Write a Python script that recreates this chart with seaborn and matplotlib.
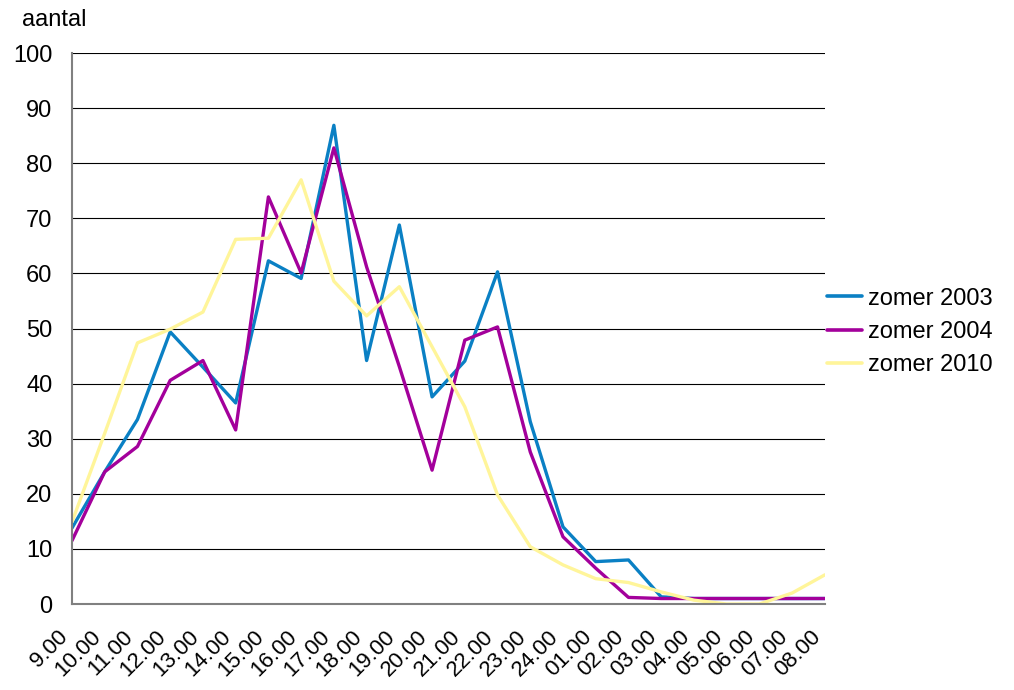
import pandas as pd
import matplotlib as mpl
import matplotlib.pyplot as plt
import seaborn as sns

# --- data ---
hours = ['9.00', '10.00', '11.00', '12.00', '13.00', '14.00', '15.00', '16.00',
         '17.00', '18.00', '19.00', '20.00', '21.00', '22.00', '23.00', '24.00',
         '01.00', '02.00', '03.00', '04.00', '05.00', '06.00', '07.00', '08.00']
zomer_2003 = [13.8, 24.0, 33.5, 49.4, 43.0, 36.5, 62.3, 59.1, 86.9, 44.2, 68.8, 37.6,
              44.1, 60.3, 33.1, 14.0, 7.7, 8.0, 1.3, 1.0, 1.0, 1.0, 1.0, 1.0]
zomer_2004 = [11.5, 24.0, 28.6, 40.6, 44.2, 31.6, 73.9, 60.1, 82.8, 61.2, 43.1, 24.3,
              47.9, 50.3, 27.6, 12.2, 6.5, 1.2, 1.0, 1.0, 1.0, 1.0, 1.0, 1.0]
zomer_2010 = [14.9, 31.0, 47.4, 49.9, 53.0, 66.2, 66.4, 77.0, 58.6, 52.3, 57.6, 46.7,
              35.8, 19.8, 10.4, 7.1, 4.6, 3.9, 2.2, 0.7, 0.0, 0.0, 2.0, 5.3]
series = {'zomer 2003': zomer_2003, 'zomer 2004': zomer_2004, 'zomer 2010': zomer_2010}
colors = {'zomer 2003': '#0A80C4', 'zomer 2004': '#A3009B', 'zomer 2010': '#FFF59A'}

rows = []
for name, vals in series.items():
    for i, (h, v) in enumerate(zip(hours, vals)):
        rows.append({'pos': i, 'uur': h, 'aantal': v, 'serie': name})
df = pd.DataFrame(rows)

sns.set_style('white')
mpl.rcParams['font.family'] = ['Liberation Sans', 'DejaVu Sans']
mpl.rcParams['font.size'] = 17
mpl.rcParams['text.color'] = 'black'
mpl.rcParams['xtick.color'] = 'black'
mpl.rcParams['ytick.color'] = 'black'

fig = plt.figure(figsize=(10.14, 6.90), dpi=100)
ax = fig.add_axes([0.071, 0.1246, 0.7425, 0.7984])

sns.lineplot(data=df, x='pos', y='aantal', hue='serie', palette=colors,
             linewidth=2.4, estimator=None, sort=False, ax=ax)

ax.set_xlim(0, len(hours) - 1)
ax.set_ylim(0, 100)
ax.set_yticks(range(0, 101, 10))
ax.set_xticks(range(len(hours)))
ax.set_xticklabels(hours, rotation=45, ha='right', va='top')
ax.tick_params(axis='x', length=0, pad=16, labelsize=16, labelcolor='black')
ax.tick_params(axis='y', length=0, pad=14, labelsize=17, labelcolor='black')
ax.yaxis.grid(True, color='black', linewidth=0.8)
ax.set_axisbelow(True)
ax.set_xlabel('')
ax.set_ylabel('')
for side in ['top', 'right']:
    ax.spines[side].set_visible(False)
for side in ['left', 'bottom']:
    ax.spines[side].set_color('#808080')
    ax.spines[side].set_linewidth(1.5)

fig.text(0.022, 0.971, 'aantal', fontsize=17, va='center', ha='left', color='black')

leg = ax.legend(loc='center left', bbox_to_anchor=(0.8156, 0.519),
                bbox_transform=fig.transFigure, frameon=False,
                fontsize=17, handlelength=1.5, handletextpad=0.22,
                labelspacing=0.48, borderpad=0, borderaxespad=0)
for line in leg.get_lines():
    line.set_linewidth(2.6)
for t in leg.get_texts():
    t.set_color('black')

fig.savefig('out.png', dpi=100)
